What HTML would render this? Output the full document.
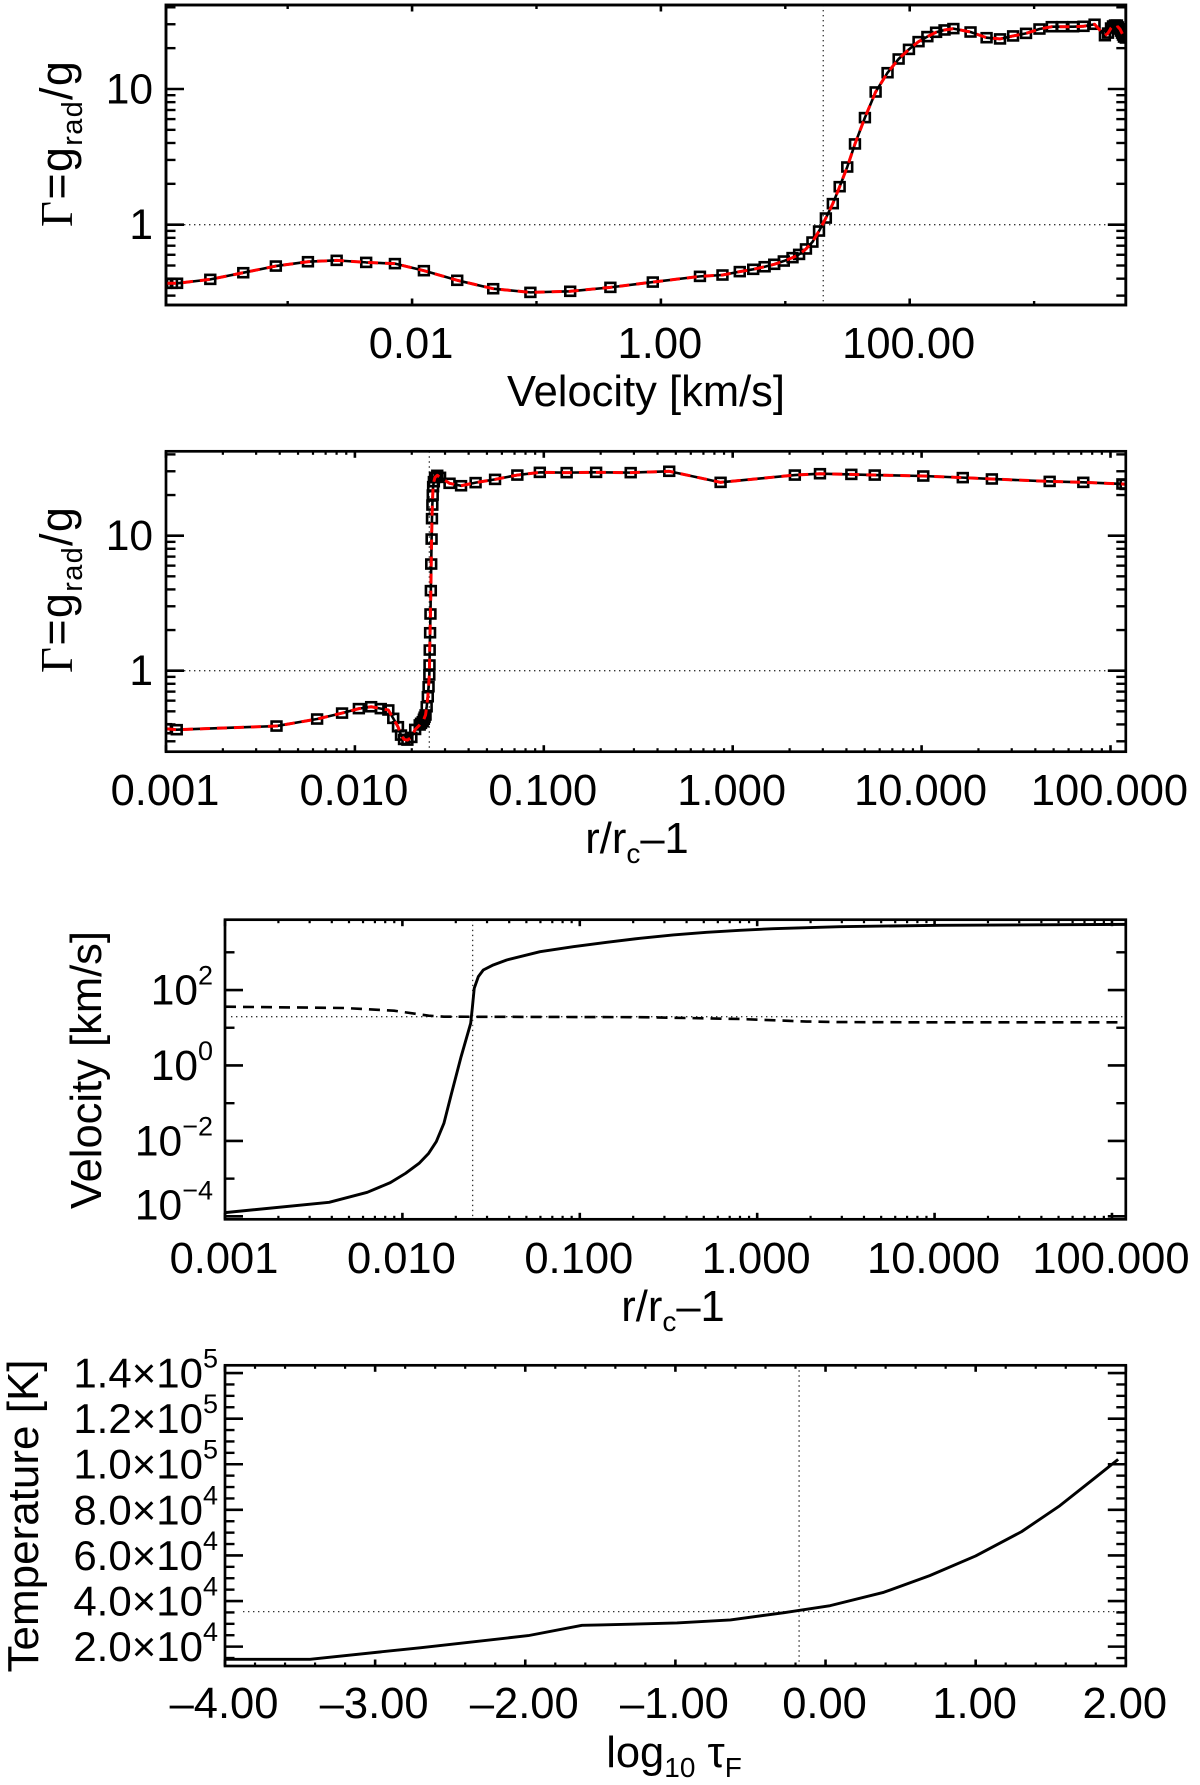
<!DOCTYPE html>
<html lang="en">
<head>
<meta charset="utf-8">
<title>Stellar wind diagnostics</title>
<style>
html,body{margin:0;padding:0;background:#fff;}
svg{display:block;}
text{font-family:"Liberation Sans",sans-serif;fill:#000;}
</style>
</head>
<body>
<svg id="figure" xmlns="http://www.w3.org/2000/svg" width="1200" height="1785" viewBox="0 0 1200 1785">
  <rect x="0" y="0" width="1200" height="1785" fill="#fff"/>

  <text x="646" y="406" font-size="43.5" text-anchor="middle">Velocity [km/s]</text>
  <text transform="translate(72,227) rotate(-90)" font-size="45" letter-spacing="1.3"><tspan style="font-family:'Liberation Serif',serif">Γ</tspan>=g<tspan font-size="29" dy="10">rad</tspan><tspan dy="-10">/g</tspan></text>

  <text x="637" y="853" font-size="43.5" text-anchor="middle">r/r<tspan font-size="28" dy="10">c</tspan><tspan dy="-10">–1</tspan></text>
  <text transform="translate(72,673) rotate(-90)" font-size="45" letter-spacing="1.3"><tspan style="font-family:'Liberation Serif',serif">Γ</tspan>=g<tspan font-size="29" dy="10">rad</tspan><tspan dy="-10">/g</tspan></text>

  <text x="673" y="1321" font-size="43.5" text-anchor="middle">r/r<tspan font-size="28" dy="10">c</tspan><tspan dy="-10">–1</tspan></text>
  <text transform="translate(101,1070) rotate(-90)" font-size="43.5" text-anchor="middle">Velocity [km/s]</text>

  <text x="674" y="1767" font-size="43.5" text-anchor="middle">log<tspan font-size="28" dy="10">10</tspan><tspan dy="-10"> τ</tspan><tspan font-size="28" dy="10">F</tspan></text>
  <text transform="translate(38,1516) rotate(-90)" font-size="44" text-anchor="middle">Temperature [K]</text>
</svg>

<script>
// ---------- Panel A: Gamma vs velocity (log10 km/s, log10 Gamma) ----------
const panelAVelocityLog = [-3.978,-3.93,-3.889,-3.622,-3.357,-3.095,-2.837,-2.606,-2.369,-2.138,-1.905,-1.637,-1.348,-1.049,-.729,-.406,-.065,.314,.495,.634,.742,.834,.911,.988,1.058,1.111,1.166,1.218,1.271,1.326,1.382,1.437,1.498,1.56,1.64,1.726,1.822,1.911,1.994,2.071,2.142,2.212,2.28,2.351,2.489,2.618,2.726,2.831,2.935,3.043,3.142,3.225,3.314,3.397,3.486,3.569,3.594,3.618,3.634,3.650,3.666,3.674,3.69,3.698,3.706,3.714,3.722,3.737];
const panelAGammaLog = [-.432,-.432,-.432,-.403,-.354,-.305,-.273,-.263,-.278,-.287,-.339,-.41,-.472,-.499,-.491,-.462,-.423,-.381,-.371,-.346,-.329,-.31,-.292,-.268,-.243,-.219,-.179,-.128,-.047,.049,.155,.28,.425,.595,.789,.978,1.12,1.221,1.292,1.349,1.386,1.418,1.435,1.445,1.42,1.378,1.369,1.391,1.41,1.442,1.459,1.459,1.459,1.462,1.477,1.393,1.412,1.449,1.464,1.471,1.471,1.457,1.442,1.427,1.412,1.398,1.383,1.376];
const panelAXMajorTicks = [-2,0,2];
const panelAXMinorTicks = [-3,-1,1,3];
const panelAXTickLabels = ["0.01","1.00","100.00"];
const panelAGuideX = 1.305;
const panelAGuideY = 0;

// ---------- Panel B: Gamma vs radius (log10 r/rc-1, log10 Gamma) ----------
const panelBRadiusLog = [-3,-2.943,-2.415,-2.2,-2.068,-1.979,-1.914,-1.863,-1.823,-1.797,-1.772,-1.756,-1.74,-1.722,-1.701,-1.681,-1.657,-1.65,-1.641,-1.635,-1.631,-1.626,-1.62,-1.614,-1.61,-1.606,-1.605,-1.604,-1.602,-1.6,-1.598,-1.596,-1.594,-1.592,-1.59,-1.588,-1.586,-1.582,-1.576,-1.564,-1.549,-1.499,-1.438,-1.361,-1.258,-1.14,-1.021,-.879,-.723,-.54,-.336,-.064,.329,.462,.628,.752,1.009,1.218,1.372,1.678,1.856,2.063,2.08];
const panelBGammaLog = [-.43,-.437,-.41,-.358,-.314,-.281,-.267,-.281,-.291,-.353,-.415,-.477,-.509,-.514,-.494,-.435,-.402,-.39,-.378,-.36,-.345,-.328,-.267,-.193,-.119,-.032,.042,.153,.281,.42,.593,.79,.975,1.126,1.227,1.301,1.363,1.4,1.432,1.447,1.432,1.388,1.37,1.393,1.417,1.449,1.469,1.467,1.469,1.467,1.477,1.395,1.449,1.459,1.454,1.449,1.442,1.43,1.42,1.402,1.395,1.383,1.38];
const panelBXMajorTicks = [-3,-2,-1,0,1,2];
const panelBXTickLabels = ["0.001","0.010","0.100","1.000","10.000","100.000"];
const panelBGuideX = -1.606;
const panelBGuideY = 0;

// ---------- Panels A and B share the Gamma axis ----------
const gammaMajorTicks = [0,1];
const gammaTickLabels = ["1","10"];
const gammaMinorTickValues = [0.3,0.4,0.5,0.6,0.7,0.8,0.9,2,3,4,5,6,7,8,9,20,30,40];
const logMinorMultipliers = [2,3,4,5,6,7,8,9];

// ---------- Panel C: velocity and sound speed vs radius ----------
const panelCRadiusLog = [-3,-2.413,-2.198,-2.068,-1.982,-1.906,-1.852,-1.809,-1.766,-1.723,-1.669,-1.615,-1.606,-1.595,-1.572,-1.544,-1.488,-1.412,-1.224,-1.037,-.848,-.661,-.473,-.285,-.097,.091,.467,1.03,2.078];
const panelCVelocityLog = [-3.901,-3.627,-3.362,-3.106,-2.859,-2.594,-2.329,-2.019,-1.534,-.739,.233,1.118,1.516,2.046,2.354,2.531,2.664,2.796,3.016,3.149,3.266,3.372,3.459,3.531,3.584,3.626,3.679,3.716,3.74];
const panelCSoundRadiusLog = [-3,-2.327,-2.047,-1.852,-1.766,-.661,-.097,.279,.467,1.0,2.078];
const panelCSoundLog = [1.558,1.523,1.452,1.32,1.293,1.28,1.232,1.165,1.15,1.143,1.143];
const panelCYMajorTicks = [-4,-2,0,2];
const panelCYMinorTicks = [-3,-1,1,3];
const panelCYTickExponents = ["−4","−2","0","2"];
const panelCXMajorTicks = [-3,-2,-1,0,1,2];
const panelCXTickLabels = ["0.001","0.010","0.100","1.000","10.000","100.000"];
const panelCGuideX = -1.604;
const panelCGuideY = 1.293;

// ---------- Panel D: temperature vs optical depth ----------
const panelDTauLog = [-4,-3.434,-2.694,-1.98,-1.622,-1.5,-.99,-.633,-.276,.031,.388,.694,1,1.306,1.561,1.791,1.949];
const panelDTemperature = [14444,14444,19560,24825,29357,29500,30380,31700,34910,37980,43830,51140,59770,70440,81840,93830,102160];
const panelDXMajorTicks = [-4,-3,-2,-1,0,1,2];
const panelDXTickLabels = ["–4.00","–3.00","–2.00","–1.00","0.00","1.00","2.00"];
const panelDYMajorTicks = [20000,40000,60000,80000,100000,120000,140000];
const panelDYMantissas = ["2.0","4.0","6.0","8.0","1.0","1.2","1.4"];
const panelDYExponents = ["4","4","4","4","5","5","5"];
const panelDYMinorStep = 5000;
const panelDXMinorStep = 0.2;
const panelDGuideX = -0.176;
const panelDGuideY = 35350;

// ---------- Drawing helpers ----------
const svg = document.getElementById('figure');
const NS = 'http://www.w3.org/2000/svg';

function make(parent, tag, attrs, name) {
  const el = document.createElementNS(NS, tag);
  for (const k in attrs) el.setAttribute(k, attrs[k]);
  
  
  parent.appendChild(el);
  return el;
}
function scale(d0, d1, r0, r1) {
  return v => r0 + (v - d0) / (d1 - d0) * (r1 - r0);
}
function createPanel(id, box, xDomain, yDomain) {
  const g = make(svg, 'g', {}, 'panel-' + id);
  const defs = make(g, 'clipPath', {id: 'clip-' + id}, 'panel-' + id + '-clip');
  make(defs, 'rect', {x: box.l, y: box.t, width: box.r - box.l, height: box.b - box.t}, 'panel-' + id + '-clip-area');
  return {
    id, g, box,
    x: scale(xDomain[0], xDomain[1], box.l, box.r),
    y: scale(yDomain[0], yDomain[1], box.b, box.t),
    xDomain, yDomain
  };
}
function frame(p, w) {
  const b = p.box;
  make(p.g, 'rect', {x: b.l, y: b.t, width: b.r - b.l, height: b.b - b.t, fill: 'none', stroke: '#000', 'stroke-width': w}, 'panel-' + p.id + '-frame');
}
function xTick(p, v, len, w) {
  const x = p.x(v), b = p.box;
  if (x < b.l - 0.5 || x > b.r + 0.5) return;
  make(p.g, 'line', {x1: x, x2: x, y1: b.b, y2: b.b - len, stroke: '#000', 'stroke-width': w}, 'x-tick-bottom');
  make(p.g, 'line', {x1: x, x2: x, y1: b.t, y2: b.t + len, stroke: '#000', 'stroke-width': w}, 'x-tick-top');
}
function yTick(p, v, len, w) {
  const y = p.y(v), b = p.box;
  if (y < b.t - 0.5 || y > b.b + 0.5) return;
  make(p.g, 'line', {x1: b.l, x2: b.l + len, y1: y, y2: y, stroke: '#000', 'stroke-width': w}, 'y-tick-left');
  make(p.g, 'line', {x1: b.r, x2: b.r - len, y1: y, y2: y, stroke: '#000', 'stroke-width': w}, 'y-tick-right');
}
function xLabel(p, v, text, baseline) {
  const t = make(p.g, 'text', {x: p.x(v) - 1, y: baseline, 'font-size': 43.5, 'text-anchor': 'middle'}, 'x-tick-label');
  t.textContent = text;
}
function yBaseline(p, v) {
  return Math.min(p.y(v) + 14.5, p.box.b);
}
function guides(p, gx, gy, hStart) {
  const b = p.box;
  const c = {stroke: '#333', 'stroke-width': 1.3, 'stroke-dasharray': '1.4 3.6', fill: 'none'};
  make(p.g, 'line', Object.assign({x1: p.x(gx), x2: p.x(gx), y1: b.t, y2: b.b}, c), 'vertical-guide');
  make(p.g, 'line', Object.assign({x1: b.l + hStart, x2: b.r, y1: p.y(gy), y2: p.y(gy)}, c), 'horizontal-guide');
}
function path(p, xs, ys, style, name) {
  const pts = xs.map((v, i) => p.x(v).toFixed(2) + ',' + p.y(ys[i]).toFixed(2)).join(' ');
  make(p.g, 'polyline', Object.assign({points: pts, fill: 'none', 'clip-path': 'url(#clip-' + p.id + ')', 'stroke-linejoin': 'round'}, style), name);
}
function markers(p, xs, ys) {
  const gm = make(p.g, 'g', {'clip-path': 'url(#clip-' + p.id + ')'}, 'series-markers');
  xs.forEach((v, i) => {
    make(gm, 'rect', {x: p.x(v) - 4.9, y: p.y(ys[i]) - 4.5, width: 9.8, height: 9, fill: 'none', stroke: '#000', 'stroke-width': 2.6}, 'data-point');
  });
}
function gammaAxis(p) {
  gammaMajorTicks.forEach((v, i) => {
    yTick(p, v, 18, 2.6);
    const t = make(p.g, 'text', {x: 153, y: yBaseline(p, v), 'font-size': 42.5, 'text-anchor': 'end'}, 'y-tick-label');
    t.textContent = gammaTickLabels[i];
  });
  gammaMinorTickValues.forEach(v => yTick(p, Math.log10(v), 9.5, 2.4));
}
function logXMinor(p, decades) {
  decades.forEach(d => logMinorMultipliers.forEach(m => xTick(p, d + Math.log10(m), 3.5, 2.2)));
}

// ---------- Panel A ----------
const pA = createPanel('a', {l: 166, r: 1125.8, t: 5, b: 305}, [-3.978, 3.737], [-.592, 1.619]);
guides(pA, panelAGuideX, panelAGuideY, 18);
path(pA, panelAVelocityLog, panelAGammaLog, {stroke: '#000', 'stroke-width': 2.6}, 'gamma-line-black');
markers(pA, panelAVelocityLog, panelAGammaLog);
path(pA, panelAVelocityLog, panelAGammaLog, {stroke: '#f00', 'stroke-width': 3, 'stroke-dasharray': '10 7'}, 'gamma-line-red-dashed');
panelAXMajorTicks.forEach((v, i) => {
  xTick(pA, v, 6.5, 2.6);
  xLabel(pA, v, panelAXTickLabels[i], 358);
});
panelAXMinorTicks.forEach(v => xTick(pA, v, 4, 2.4));
gammaAxis(pA);
frame(pA, 2.9);

// ---------- Panel B ----------
const pB = createPanel('b', {l: 166, r: 1125.8, t: 451.3, b: 751.7}, [-3, 2.081], [-.6, 1.625]);
guides(pB, panelBGuideX, panelBGuideY, 18);
path(pB, panelBRadiusLog, panelBGammaLog, {stroke: '#000', 'stroke-width': 2.6}, 'gamma-line-black');
markers(pB, panelBRadiusLog, panelBGammaLog);
path(pB, panelBRadiusLog, panelBGammaLog, {stroke: '#f00', 'stroke-width': 3, 'stroke-dasharray': '10 7'}, 'gamma-line-red-dashed');
panelBXMajorTicks.forEach((v, i) => {
  xTick(pB, v, 6.5, 2.6);
  xLabel(pB, v, panelBXTickLabels[i], 805);
});
logXMinor(pB, [-3, -2, -1, 0, 1, 2]);
gammaAxis(pB);
frame(pB, 2.7);

// ---------- Panel C ----------
const pC = createPanel('c', {l: 225, r: 1125.8, t: 919.7, b: 1219.3}, [-3, 2.078], [-4.078, 3.864]);
guides(pC, panelCGuideX, panelCGuideY, 6);
path(pC, panelCSoundRadiusLog, panelCSoundLog, {stroke: '#000', 'stroke-width': 2.6, 'stroke-dasharray': '11 7'}, 'sound-speed-dashed-line');
path(pC, panelCRadiusLog, panelCVelocityLog, {stroke: '#000', 'stroke-width': 2.9}, 'velocity-solid-line');
panelCXMajorTicks.forEach((v, i) => {
  xTick(pC, v, 6.5, 2.6);
  xLabel(pC, v, panelCXTickLabels[i], 1273);
});
logXMinor(pC, [-3, -2, -1, 0, 1, 2]);
panelCYMajorTicks.forEach((v, i) => {
  yTick(pC, v, 18, 2.6);
  const base = yBaseline(pC, v);
  const t = make(pC.g, 'text', {x: 213, y: base, 'font-size': 42.5, 'text-anchor': 'end'}, 'y-tick-label');
  t.appendChild(document.createTextNode('10'));
  const s = make(t, 'tspan', {'font-size': 27, dy: -20}, 'y-tick-exponent');
  s.textContent = panelCYTickExponents[i];
});
panelCYMinorTicks.forEach(v => yTick(pC, v, 9.5, 2.4));
frame(pC, 2.7);

// ---------- Panel D ----------
const pD = createPanel('d', {l: 225, r: 1125.8, t: 1365.3, b: 1666}, [-4, 2], [11500, 143400]);
guides(pD, panelDGuideX, panelDGuideY, 18);
path(pD, panelDTauLog, panelDTemperature, {stroke: '#000', 'stroke-width': 2.9}, 'temperature-line');
panelDXMajorTicks.forEach((v, i) => {
  xTick(pD, v, 6.5, 2.6);
  xLabel(pD, v, panelDXTickLabels[i], 1718);
});
for (let k = 1; k < 30; k++) {
  if (k % 5) xTick(pD, -4 + k * panelDXMinorStep, 3.5, 2.2);
}
panelDYMajorTicks.forEach((v, i) => {
  yTick(pD, v, 18, 2.6);
  const t = make(pD.g, 'text', {x: 218, y: yBaseline(pD, v), 'font-size': 42, 'text-anchor': 'end'}, 'y-tick-label');
  t.appendChild(document.createTextNode(panelDYMantissas[i] + '×10'));
  const s = make(t, 'tspan', {'font-size': 27, dy: -20}, 'y-tick-exponent');
  s.textContent = panelDYExponents[i];
});
for (let v = 15000; v <= 140000; v += panelDYMinorStep) {
  if (v % 20000) yTick(pD, v, 9.5, 2.4);
}
frame(pD, 2.7);
</script>
</body>
</html>
